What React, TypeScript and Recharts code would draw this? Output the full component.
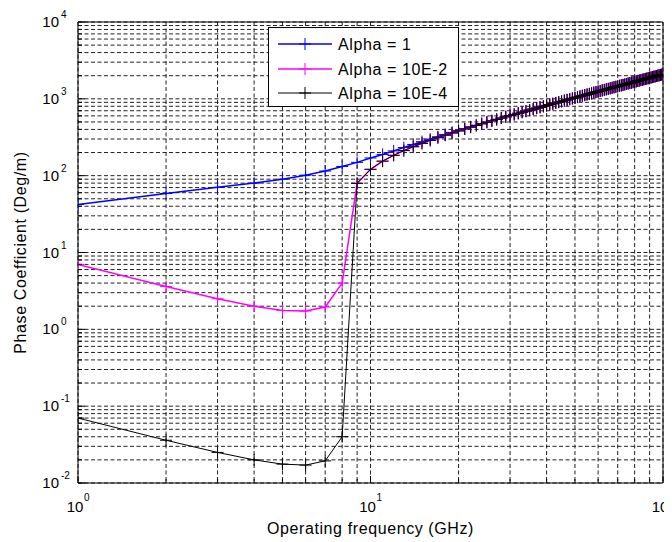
import { LineChart, Line, XAxis, YAxis, CartesianGrid, ReferenceArea, Legend } from "recharts";

const FONT = '"Liberation Sans", Arial, Helvetica, sans-serif';

// operating frequency, GHz (one sample per integer GHz)
const freqGHz = [
  1, 2, 3, 4, 5, 6, 7, 8, 9, 10, 11, 12, 13, 14, 15, 16, 17, 18, 19, 20,
  21, 22, 23, 24, 25, 26, 27, 28, 29, 30, 31, 32, 33, 34, 35, 36, 37, 38, 39, 40,
  41, 42, 43, 44, 45, 46, 47, 48, 49, 50, 51, 52, 53, 54, 55, 56, 57, 58, 59, 60,
  61, 62, 63, 64, 65, 66, 67, 68, 69, 70, 71, 72, 73, 74, 75, 76, 77, 78, 79, 80,
  81, 82, 83, 84, 85, 86, 87, 88, 89, 90, 91, 92, 93, 94, 95, 96, 97, 98, 99, 100,
];

// 1..10 GHz
const alpha1Low = [42.2, 58.6, 70.5, 80, 90, 101.5, 115, 131.5, 149, 170];
const alpha1e2Low = [7.0, 3.6, 2.5, 2.0, 1.76, 1.73, 1.95, 4.0, 79.5, 121];
const alpha1e4Low = [0.07, 0.036, 0.025, 0.02, 0.0176, 0.0171, 0.0194, 0.04, 79.5, 121];

// 11..30 GHz
const alpha1Mid = [189, 210, 232, 254.5, 277, 299, 321, 344, 366, 388, 410, 432, 454, 476, 498, 519, 541, 563, 585, 606];
const smallAlphaMid = [154.5, 184, 212, 238, 263.5, 288, 312, 336, 359, 382, 405, 428, 450, 473, 495, 517, 539, 561, 583, 604.5];

// 31..100 GHz, all three curves sit on top of each other here
const commonHigh = [
  627, 648, 670, 691, 713, 735, 756, 777, 799, 820,
  842, 863, 884, 906, 927, 948, 969, 991, 1012, 1033,
  1054, 1076, 1097, 1118, 1139, 1160, 1181, 1203, 1224, 1245,
  1266, 1287, 1308, 1329, 1350, 1372, 1393, 1414, 1435, 1456,
  1477, 1498, 1519, 1540, 1561, 1582, 1603, 1624, 1645, 1667,
  1688, 1709, 1730, 1751, 1772, 1793, 1814, 1835, 1856, 1877,
  1898, 1919, 1940, 1961, 1982, 2003, 2024, 2045, 2066, 2087,
];

const alpha1 = [...alpha1Low, ...alpha1Mid, ...commonHigh];
const alpha1e2 = [...alpha1e2Low, ...smallAlphaMid, ...commonHigh];
const alpha1e4 = [...alpha1e4Low, ...smallAlphaMid, ...commonHigh];

const seriesNames = ["Alpha = 1", "Alpha = 10E-2", "Alpha = 10E-4"];
const seriesColors = ["#0000FF", "#FF00FF", "#000000"];

const xDecades = [0, 1, 2];
const yDecades = [-2, -1, 0, 1, 2, 3, 4];

const decadeTicks = (decs: number[]) => {
  const out: number[] = [];
  decs.forEach((d, i) => {
    const base = Math.pow(10, d);
    if (i === decs.length - 1) {
      out.push(base);
      return;
    }
    for (let k = 1; k < 10; k++) out.push(Number((k * base).toPrecision(3)));
  });
  return out;
};
const xTicks = decadeTicks(xDecades);
const yTicks = decadeTicks(yDecades);

const decadeOf = (v: number) => {
  const e = Math.log10(v);
  return Math.abs(e - Math.round(e)) < 1e-6 ? Math.round(e) : null;
};

const data = freqGHz.map((f, i) => ({
  f,
  a1: alpha1[i],
  a2: alpha1e2[i],
  a4: alpha1e4[i],
}));

function BottomTick({ x, y, payload }: any) {
  const e = decadeOf(payload.value);
  return (
    <g>
      <line x1={x} x2={x} y1={y} y2={y - (e !== null ? 7 : 4)} stroke="#000" />
      {e !== null && (
        <>
          <text x={x - 3} y={y + 29} textAnchor="middle" fontSize={15} fill="#000" fontFamily={FONT}>10</text>
          <text x={x + 6} y={y + 18} textAnchor="start" fontSize={10} fill="#000" fontFamily={FONT}>{e}</text>
        </>
      )}
    </g>
  );
}

function LeftTick({ x, y, payload }: any) {
  const e = decadeOf(payload.value);
  return (
    <g>
      <line x1={x} x2={x + (e !== null ? 7 : 4)} y1={y} y2={y} stroke="#000" />
      {e !== null && (
        <>
          <text x={x - 19} y={y + 5} textAnchor="end" fontSize={15} fill="#000" fontFamily={FONT}>10</text>
          <text x={x - 17} y={y - 4} textAnchor="start" fontSize={10} fill="#000" fontFamily={FONT}>{e}</text>
        </>
      )}
    </g>
  );
}

function TopTick({ x, y, payload }: any) {
  const e = decadeOf(payload.value);
  return <line x1={x} x2={x} y1={y} y2={y + (e !== null ? 7 : 4)} stroke="#000" />;
}

function RightTick({ x, y, payload }: any) {
  const e = decadeOf(payload.value);
  return <line x1={x} x2={x - (e !== null ? 7 : 4)} y1={y} y2={y} stroke="#000" />;
}

const plusDot = (color: string) => (p: any) => {
  if (p.cx == null || p.cy == null) return <g key={p.index} />;
  return (
    <path
      key={p.index}
      d={`M${p.cx - 6},${p.cy}h12M${p.cx},${p.cy - 6}v12`}
      stroke={color}
      strokeWidth={1}
      fill="none"
    />
  );
};

function LegendBox() {
  const rows = [17, 42, 66];
  return (
    <svg width={191} height={80} style={{ display: "block" }}>
      <rect x={0.5} y={0.5} width={190} height={79} fill="#fff" stroke="#000" />
      {seriesNames.map((name, i) => (
        <g key={name}>
          <line x1={10} x2={64} y1={rows[i]} y2={rows[i]} stroke={seriesColors[i]} strokeWidth={i === 2 ? 1 : 1.5} />
          <path d={`M31,${rows[i]}h12M37,${rows[i] - 6}v12`} stroke={seriesColors[i]} />
          <text x={70} y={rows[i] + 6} fontSize={16} letterSpacing={0.6} fill="#000" fontFamily={FONT}>
            {name}
          </text>
        </g>
      ))}
    </svg>
  );
}

export default function App() {
  return (
    <LineChart
      width={664}
      height={534}
      data={data}
      margin={{ top: 14, right: 9, bottom: 0, left: 0 }}
      style={{ fontFamily: FONT, background: "#fff" }}
    >
      <CartesianGrid stroke="#222" strokeDasharray="4 2.5" />
      <XAxis
        dataKey="f"
        type="number"
        scale="log"
        domain={[1, 100]}
        allowDataOverflow
        ticks={xTicks}
        interval={0}
        tickSize={0}
        tickMargin={0}
        tickLine={false}
        axisLine={false}
        height={59}
        tick={<BottomTick />}
        label={{
          content: (props: any) => {
            const vb = props.viewBox;
            return (
              <text x={vb.x + vb.width / 2} y={vb.y + 51} textAnchor="middle" fontSize={16} letterSpacing={0.6} fill="#000" fontFamily={FONT}>
                Operating frequency (GHz)
              </text>
            );
          },
        }}
      />
      <XAxis
        xAxisId="top"
        orientation="top"
        type="number"
        scale="log"
        domain={[1, 100]}
        allowDataOverflow
        ticks={xTicks}
        interval={0}
        tickSize={0}
        tickMargin={0}
        tickLine={false}
        axisLine={false}
        height={0}
        tick={<TopTick />}
      />
      <YAxis
        type="number"
        scale="log"
        domain={[0.01, 10000]}
        allowDataOverflow
        ticks={yTicks}
        interval={0}
        tickSize={0}
        tickMargin={0}
        tickLine={false}
        axisLine={false}
        width={70}
        tick={<LeftTick />}
        label={{
          content: (props: any) => {
            const vb = props.viewBox;
            const cx = 18;
            const cy = vb.y + vb.height / 2;
            return (
              <text x={cx} y={cy} transform={`rotate(-90 ${cx} ${cy})`} textAnchor="middle" fontSize={16} letterSpacing={0.6} fill="#000" fontFamily={FONT}>
                Phase Coefficient (Deg/m)
              </text>
            );
          },
        }}
      />
      <YAxis
        yAxisId="right"
        orientation="right"
        type="number"
        scale="log"
        domain={[0.01, 10000]}
        allowDataOverflow
        ticks={yTicks}
        interval={0}
        tickSize={0}
        tickMargin={0}
        tickLine={false}
        axisLine={false}
        width={0}
        tick={<RightTick />}
      />
      <ReferenceArea x1={1} x2={100} y1={0.01} y2={10000} fill="none" stroke="#000" strokeWidth={1} />
      <Line type="linear" dataKey="a1" name={seriesNames[0]} stroke={seriesColors[0]} strokeWidth={1.5} dot={plusDot(seriesColors[0])} activeDot={false} isAnimationActive={false} />
      <Line type="linear" dataKey="a2" name={seriesNames[1]} stroke={seriesColors[1]} strokeWidth={1.5} dot={plusDot(seriesColors[1])} activeDot={false} isAnimationActive={false} />
      <Line type="linear" dataKey="a4" name={seriesNames[2]} stroke={seriesColors[2]} strokeWidth={1} dot={plusDot(seriesColors[2])} activeDot={false} isAnimationActive={false} />
      <Legend
        layout="vertical"
        align="center"
        verticalAlign="middle"
        wrapperStyle={{ left: 260, top: 19, width: 191, height: 80 }}
        content={() => <LegendBox />}
      />
    </LineChart>
  );
}
